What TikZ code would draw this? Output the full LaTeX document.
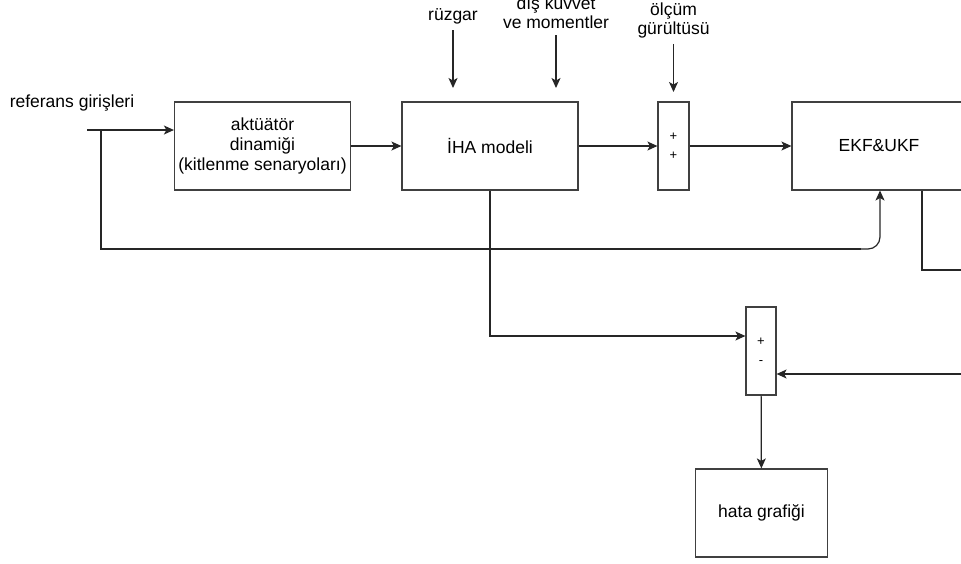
\documentclass[tikz,border=0pt]{standalone}
\usepackage{fontspec}
\setmainfont{Liberation Sans}
\usetikzlibrary{arrows.meta,positioning,calc}

\begin{document}
\begin{tikzpicture}[x=1pt,y=-1pt,
      blok/.style={draw=black!75,line width=1.2pt,minimum width=176pt,minimum height=88pt,
                   align=center,inner sep=0pt,font=\fontsize{17.5}{20}\selectfont},
      topla/.style={draw=black!75,line width=1.2pt,minimum width=31pt,minimum height=88pt,
                    align=center,inner sep=0pt,font=\fontsize{13}{19}\selectfont},
      etiket/.style={align=center,inner sep=3pt,font=\fontsize{17.5}{19}\selectfont},
      ok/.style={-{Stealth[length=10pt,width=9pt,inset=2.5pt]},line width=1.2pt,black!85},
      cizgi/.style={line width=1.2pt,black!85}]
    \useasboundingbox (0,0) rectangle (961,563);
    \clip (0,0) rectangle (961,563);

    % ana bloklar
    \node[blok] (akt) at (262.5,146) {akt\"u\"at\"or\\ dinami\u{g}i\\ (kitlenme senaryolar\i)};
    \node[blok] (iha) at (490,146) {\.IHA modeli};
    \node[topla] (top1) at (673.5,146) {+\\ +};
    \node[blok,minimum width=174pt] (ekf) at (879,146) {EKF\&UKF};
    \node[topla,minimum width=30pt] (top2) at (761,351) {+\\ -};
    \node[blok,minimum width=132pt] (hata) at (761.5,513) {hata grafi\u{g}i};

    % dis etkiler
    \node[etiket] (giris) at (72,103) {referans giri\c{s}leri};
    \node[etiket] (ruzgar) at (453,16) {r\"uzgar};
    \node[etiket] (kuvvet) at (556,13) {d\i\c{s} kuvvet\\ ve momentler};
    \node[etiket] (olcum) at (673.5,20) {\"ol\c{c}\"um\\ g\"ur\"ult\"us\"u};
    \coordinate (gBas) at (87,130);
    \coordinate (gDal) at (101,130);
    \coordinate (donus) at (101,249);
    \coordinate (rUc) at (453,88);
    \coordinate (kUc) at (556,88);
    \coordinate (oUc) at (673.5,92);
    \coordinate (sag1) at (966,270);
    \coordinate (sag2) at (966,374);

    \draw[ok] (ruzgar.south) ++(0,3) -- (rUc);
    \draw[ok] (kuvvet.south) ++(0,3) -- (kUc);
    \draw[ok] (olcum.south) ++(0,3) -- (oUc);

    % sinyal yolu
    \draw[ok] (gBas) -- (gBas -| akt.west);
    \draw[ok] (akt) -- (iha);
    \draw[ok] (iha) -- (top1);
    \draw[ok] (top1) -- (ekf);
    \draw[cizgi] (gDal) -- (donus) -- ++(760,0);
    \draw[ok,rounded corners=12pt] (860,249) -- (880,249) -- (880,190.5);
    \draw[ok] (iha.south) |- (top2.west |- 0,336);
    \draw[ok] (sag2) -- (sag2 -| top2.east);
    \draw[ok] (top2) -- (hata);
    \draw[cizgi] (ekf.south -| 922,0) |- (sag1);
  \end{tikzpicture}
\end{document}
